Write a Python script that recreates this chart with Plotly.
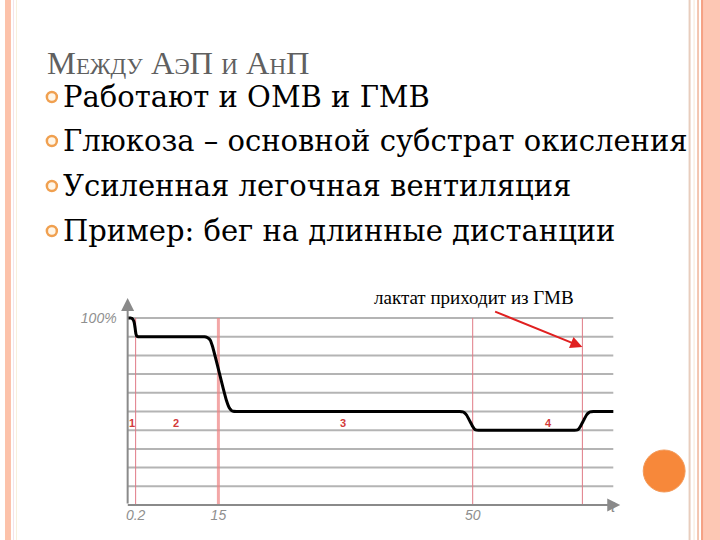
import plotly.graph_objects as go

W, H = 720, 540

# ---- data (schematic time units, % of max power) ----
t_vals = [0, 3.5, 5, 6, 6.8, 7.5, 8.3, 9.2, 10.5,
          77, 79.5, 81.5, 83, 85, 88, 92, 96, 99, 101, 102.5, 104, 106, 109,
          333, 336, 338, 340, 343, 346, 347.5, 349, 352,
          448, 451, 452.5, 454, 457, 460, 462, 464, 467,
          487]
power = [100, 100, 99.5, 98.5, 97, 94.5, 91.5, 90.3, 90,
         90, 89.7, 89, 88, 85, 79, 70.5, 62, 56, 53, 51.5, 50.6, 50.1, 50,
         50, 49.8, 49.2, 48, 45, 42, 40.8, 40.2, 40,
         40, 40.2, 40.8, 42, 45, 48, 49.2, 49.8, 50,
         50]

boundary_t = [8, 91, 346, 456]
boundary_labels = ["0.2", "15", "50", ""]
grid_levels = [10, 20, 30, 40, 50, 60, 70, 80, 90, 100]
phase_names = ["1", "2", "3", "4"]
phase_t = [4, 48, 216, 422]
phase_level = 44

title_text = "Между АэП и АнП"
bullets = [
    "Работают и ОМВ и ГМВ",
    "Глюкоза – основной субстрат окисления",
    "Усиленная легочная вентиляция",
    "Пример: бег на длинные дистанции",
]
note_text = "лактат приходит из ГМВ"

# ---- geometry helpers (pixel -> paper) ----
def px(x):
    return x / W

def py(y):
    return 1 - y / H

X0, X1 = 126, 620
Y0, Y1 = 505, 298
XMAX = 494
YMAX = (Y0 - Y1) / 1.87

fig = go.Figure()

fig.add_trace(go.Scatter(
    x=t_vals, y=power, mode="lines",
    line=dict(color="#000000", width=3, shape="spline", smoothing=0.3),
    hoverinfo="skip", showlegend=False,
))

shapes = []
# gridlines
for g in grid_levels:
    shapes.append(dict(type="line", xref="x", yref="y", x0=0, x1=487, y0=g, y1=g,
                       line=dict(color="#b4b4b4", width=2), layer="below"))
# phase boundaries
for i, b in enumerate(boundary_t):
    if i == 1:
        ln = dict(color="rgba(238,130,130,0.7)", width=3)
    else:
        ln = dict(color="#e07a86", width=1)
    shapes.append(dict(type="line", xref="x", yref="y", x0=b, x1=b, y0=0, y1=100,
                       line=ln, layer="below"))

# slide decorations
shapes += [
    dict(type="rect", xref="paper", yref="paper", x0=px(3), x1=px(9), y0=0, y1=1,
         fillcolor="#fcc2aa", line=dict(width=0), layer="below"),
    dict(type="line", xref="paper", yref="paper", x0=px(11.5), x1=px(11.5), y0=0, y1=1,
         line=dict(color="#f4e2e8", width=1), layer="below"),
    dict(type="line", xref="paper", yref="paper", x0=px(14.5), x1=px(14.5), y0=0, y1=1,
         line=dict(color="#f8f0dc", width=1), layer="below"),
    dict(type="line", xref="paper", yref="paper", x0=px(689.5), x1=px(689.5), y0=0, y1=1,
         line=dict(color="#e8cdbd", width=2), layer="below"),
    dict(type="line", xref="paper", yref="paper", x0=px(694), x1=px(694), y0=0, y1=1,
         line=dict(color="#f6e6d6", width=1), layer="below"),
    dict(type="line", xref="paper", yref="paper", x0=px(698), x1=px(698), y0=0, y1=1,
         line=dict(color="#f3c5b0", width=2), layer="below"),
    dict(type="rect", xref="paper", yref="paper", x0=px(701), x1=px(720), y0=0, y1=1,
         fillcolor="#fdc7b4", line=dict(width=0), layer="below"),
    dict(type="line", xref="paper", yref="paper", x0=px(702), x1=px(702), y0=0, y1=1,
         line=dict(color="#f5a184", width=2), layer="below"),
    dict(type="circle", xref="paper", yref="paper", x0=px(643), x1=px(685), y0=py(492), y1=py(450),
         fillcolor="#f7883a", line=dict(color="#f39a5a", width=1)),
]

SERIF = "Liberation Serif, Times New Roman, serif"
BODY = "DejaVu Serif, serif"
annotations = []
# title
annotations.append(dict(xref="paper", yref="paper", x=px(43), y=py(83), xanchor="left", yanchor="bottom",
                        text=title_text, showarrow=False,
                        font=dict(family=SERIF, size=32.5, color="#606060", variant="small-caps")))
# bullets
bullet_y = [97, 141, 186, 231]
for by, txt in zip(bullet_y, bullets):
    shapes.append(dict(type="circle", xref="paper", yref="paper",
                       x0=px(45), x1=px(55), y0=py(by + 5), y1=py(by - 5),
                       fillcolor="#fff6e8", line=dict(color="#f0a050", width=2.5)))
    annotations.append(dict(xref="paper", yref="paper", x=px(59), y=py(by), xanchor="left", yanchor="middle",
                            text=txt, showarrow=False,
                            font=dict(family=BODY, size=29, color="#000000")))
# phase numbers
for name, pt in zip(phase_names, phase_t):
    annotations.append(dict(xref="x", yref="y", x=pt, y=phase_level, text=f"<b>{name}</b>", showarrow=False,
                            font=dict(family="Liberation Sans", size=11, color="#d23a3a")))
# note + red arrow
annotations.append(dict(xref="paper", yref="paper", x=px(473), y=py(297), text=note_text, showarrow=False,
                        xanchor="center", yanchor="middle",
                        font=dict(family=SERIF, size=19, color="#000000")))
annotations.append(dict(xref="x", yref="y", axref="x", ayref="y", x=456, y=84.5, ax=367, ay=103.7,
                        text="", showarrow=True, arrowhead=2, arrowsize=1.2, arrowwidth=2, arrowcolor="#e02020"))
# axis arrows
annotations.append(dict(xref="paper", yref="paper", axref="pixel", ayref="pixel",
                        x=px(X0), y=py(Y1), ax=0, ay=Y0 - Y1, text="", showarrow=True,
                        arrowhead=2, arrowsize=1.3, arrowwidth=2, arrowcolor="#8a8a8a"))
annotations.append(dict(xref="paper", yref="paper", axref="pixel", ayref="pixel",
                        x=px(X1), y=py(Y0), ax=-(X1 - X0), ay=0, text="", showarrow=True,
                        arrowhead=2, arrowsize=1.3, arrowwidth=2, arrowcolor="#8a8a8a"))
annotations.append(dict(xref="paper", yref="paper", x=px(618), y=py(517), text="t", showarrow=False,
                        font=dict(family="Liberation Sans", size=15, color="#8a8a8a", style="italic")))

fig.update_layout(
    width=W, height=H,
    margin=dict(l=0, r=0, t=0, b=0),
    paper_bgcolor="#ffffff", plot_bgcolor="rgba(0,0,0,0)",
    shapes=shapes, annotations=annotations, showlegend=False,
    xaxis=dict(domain=[px(X0), px(X1)], range=[0, XMAX], showgrid=False, zeroline=False,
               showline=False, tickmode="array", tickvals=boundary_t, ticktext=boundary_labels,
               ticks="", tickfont=dict(family="Liberation Sans", size=14, color="#8f8f8f", style="italic"),
               fixedrange=True),
    yaxis=dict(domain=[py(Y0), py(Y1)], range=[0, YMAX], showgrid=False, zeroline=False,
               showline=False, tickmode="array", tickvals=[100], ticktext=["100%"],
               ticks="", ticklabelstandoff=10,
               tickfont=dict(family="Liberation Sans", size=14, color="#8f8f8f", style="italic"),
               fixedrange=True),
)

fig.write_html("out.html", config={"displayModeBar": False},
               post_script="document.body.style.margin='0';document.body.style.overflow='hidden';")
